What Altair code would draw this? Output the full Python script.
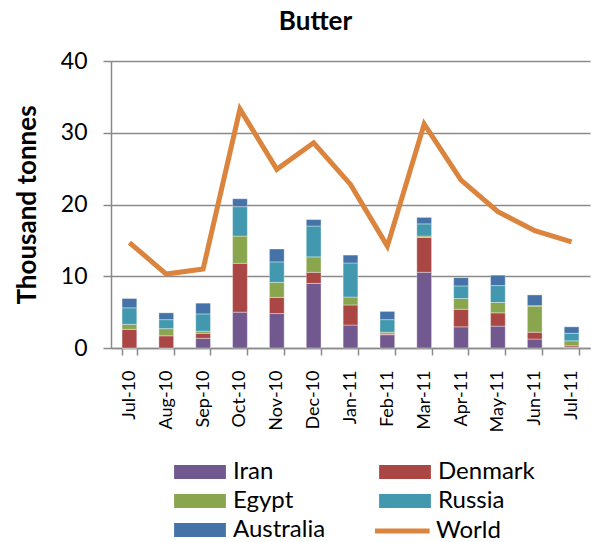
import altair as alt
import pandas as pd

# Monthly butter imports by origin (thousand tonnes)
months = ["Jul-10", "Aug-10", "Sep-10", "Oct-10", "Nov-10", "Dec-10", "Jan-11",
          "Feb-11", "Mar-11", "Apr-11", "May-11", "Jun-11", "Jul-11"]
countries = ["Iran", "Denmark", "Egypt", "Russia", "Australia"]
iran = [0.0, 0.0, 1.35, 5.0, 4.8, 9.0, 3.2, 1.85, 10.55, 2.95, 3.05, 1.25, 0.1]
denmark = [2.6, 1.7, 0.7, 6.8, 2.25, 1.55, 2.8, 0.1, 4.85, 2.45, 1.85, 0.95, 0.2]
egypt = [0.7, 1.0, 0.3, 3.8, 2.1, 2.15, 1.1, 0.25, 0.2, 1.5, 1.45, 3.65, 0.7]
russia = [2.3, 1.25, 2.4, 4.1, 2.85, 4.3, 4.75, 1.75, 1.7, 1.75, 2.35, 0.05, 1.05]
australia = [1.3, 0.95, 1.5, 1.1, 1.8, 0.9, 1.1, 1.15, 0.9, 1.15, 1.45, 1.5, 0.9]
world = [14.7, 10.3, 11.0, 33.3, 24.9, 28.6, 22.8, 14.2, 31.2, 23.4, 19.0, 16.35, 14.8]

country_colors = ["#71588F", "#AA4643", "#89A54E", "#4198AF", "#4572A7"]
world_color = "#DB843D"

series = [iran, denmark, egypt, russia, australia]
rows = []
for k, (name, vals) in enumerate(zip(countries, series)):
    for m, v in zip(months, vals):
        rows.append({"month": m, "country": name, "value": v, "order": k})
bars_df = pd.DataFrame(rows)
world_df = pd.DataFrame({"month": months, "value": world, "series": ["World"] * len(months)})

FONT = "Lato"
GRID = "#8a8a8a"

x_enc = alt.X(
    "month:N", sort=months, title=None,
    scale=alt.Scale(paddingInner=0.6, paddingOuter=0.3),
    axis=alt.Axis(labelAngle=270, labelAlign="right", labelBaseline="middle",
                  labelFontSize=18, labelFont=FONT, labelColor="#000000",
                  labelPadding=15, tickBand="extent", tickSize=7,
                  tickColor=GRID, tickWidth=1.5, domainColor=GRID,
                  domainWidth=1.5, grid=False),
)

y_axis = alt.Axis(values=[0, 10, 20, 30, 40], title="Thousand tonnes",
                  titleFont=FONT, titleFontSize=26, titleFontWeight="bold",
                  titleColor="#000000", titlePadding=20,
                  labelFont=FONT, labelFontSize=23, labelColor="#000000",
                  labelPadding=16, tickSize=8, tickColor=GRID, tickWidth=1.5,
                  domainColor=GRID, domainWidth=1.5,
                  gridColor=GRID, gridWidth=1.5)

# wide legend swatches: drawn 52 px wide inside a 14 px symbol box
rect_path = "M-3.7,-1L3.7,-1L3.7,1L-3.7,1Z"
line_path = "M-4,0L3.8,0"

bars = alt.Chart(bars_df).mark_bar(stroke="#ffffff", strokeWidth=0.6, strokeOpacity=0.6).encode(
    x=x_enc,
    y=alt.Y("value:Q", stack="zero", scale=alt.Scale(domain=[0, 40]), axis=y_axis),
    fill=alt.Fill("country:N", sort=countries,
                  scale=alt.Scale(domain=countries, range=country_colors),
                  legend=alt.Legend(title=None, orient="none", legendX=77, legendY=399,
                                    direction="horizontal", columns=2,
                                    columnPadding=53, rowPadding=5,
                                    symbolType=rect_path, symbolSize=196,
                                    symbolStrokeWidth=0,
                                    labelFont=FONT, labelFontSize=24,
                                    labelColor="#000000", labelOffset=21)),
    order=alt.Order("order:Q", sort="ascending"),
)

line = alt.Chart(world_df).mark_line(strokeWidth=5).encode(
    x=alt.X("month:N", sort=months),
    y=alt.Y("value:Q"),
    stroke=alt.Stroke("series:N",
                      scale=alt.Scale(domain=["World"], range=[world_color]),
                      legend=alt.Legend(title=None, orient="none", legendX=280, legendY=458,
                                        symbolType=line_path, symbolSize=196,
                                        symbolStrokeWidth=5,
                                        labelFont=FONT, labelFontSize=24,
                                        labelColor="#000000", labelOffset=21)),
)

chart = alt.layer(bars, line).properties(
    width=479, height=287,
    title=alt.Title("Butter", font=FONT, fontSize=26, fontWeight="bold",
                    color="#000000", anchor="middle", frame="group", dx=-35, offset=15),
    padding={"left": 14, "top": 9, "right": 5, "bottom": 5},
).configure_view(stroke=None)

chart.save("out.html", embed_options={"renderer": "svg", "actions": False})
